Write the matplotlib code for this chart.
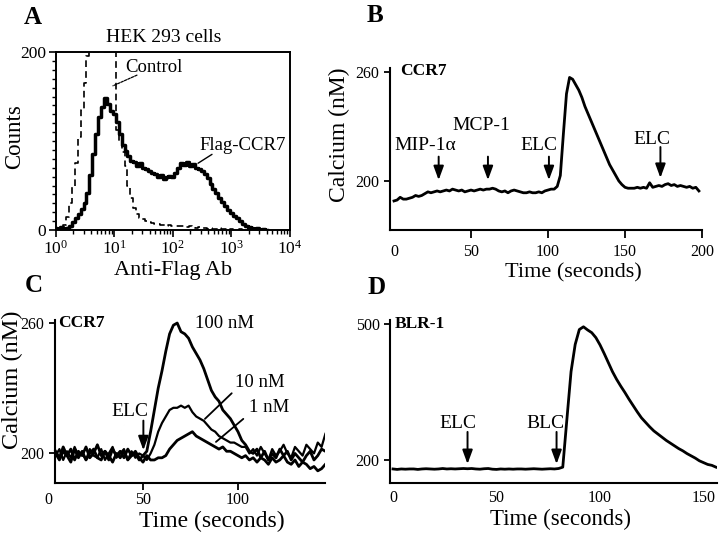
import numpy as np
import matplotlib
matplotlib.use("Agg")
import matplotlib.pyplot as plt
from matplotlib.ticker import LogLocator, LogFormatterMathtext, MultipleLocator, NullFormatter

plt.rcParams['font.family'] = ['Liberation Serif', 'DejaVu Serif']
plt.rcParams['mathtext.fontset'] = 'stix'

W, H = 720, 537

# ---- panel A: flow histogram (log10 of Anti-Flag Ab, counts)
hist_log = np.round(np.arange(0, 3.601, 0.05), 2)
flag_ccr7 = [2, 1, 3, 1, 2, 4, 9, 14, 18, 24, 30, 42, 62, 85, 108, 127, 138, 148, 142, 134,
             130, 121, 108, 96, 89, 83, 78, 76, 72, 75, 70, 68, 66, 64, 63, 60, 62, 57, 59, 61,
             60, 64, 70, 75, 73, 76, 72, 74, 70, 68, 66, 63, 58, 52, 46, 42, 36, 31, 27, 23,
             19, 16, 13, 10, 7, 5, 3, 2, 1, 2, 0, 1, 0]
control = [0, 1, 0, 6, 15, 30, 50, 75, 105, 135, 165, 195, 200, 200, 200, 200, 200, 200, 200, 200,
           200, 112, 100, 88, 72, 50, 36, 25, 18, 14, 12, 10, 9, 8, 7, 7, 6, 6, 5, 6,
           5, 4, 5, 4, 4, 3, 4, 3, 2, 3, 2, 2, 1, 2, 1, 1, 2, 1, 1, 0,
           1, 0, 0, 1, 0, 0, 0, 0, 0, 0, 0, 0, 0]

# ---- panel B: CCR7 calcium trace
b_time = np.arange(0, 199, 2)
b_calcium = [189, 189.5, 191, 190, 190, 190.5, 191, 192, 191.5, 192, 193, 194, 193.5, 194, 194.5,
             194, 194.5, 195, 194.5, 195.5, 195, 194.5, 195, 194, 194.5, 195, 194.5, 195, 195.5, 195,
             195.5, 195.5, 196, 195.5, 194.5, 194, 194.5, 193.5, 194.5, 195, 194.5, 194, 193.5, 193.5, 194,
             193.5, 193.5, 194, 193.5, 194.5, 195, 195.5, 195.5, 197, 203, 226, 248, 257, 256, 253,
             250, 246, 241, 237, 233, 229, 225, 221, 217, 213, 209, 206, 203, 200, 198,
             196.5, 196, 196, 196, 196.5, 196, 196.5, 196, 199, 196.5, 197, 197.5, 197, 198, 198.5,
             197.5, 198, 197, 197.5, 197, 196.5, 197, 196, 196.5, 194.5]

# ---- panel C: ELC dose response
c_time = np.arange(4, 147, 2)
c_100nM = [201, 198, 203, 199, 202, 197, 201, 199, 203, 198, 200, 204, 199, 201, 197, 202, 199, 201,
           198, 202, 199, 200, 197, 199, 201, 210, 220, 230, 238, 247, 255, 259, 260, 256, 255, 253,
           249, 246, 243, 239, 234, 229, 226, 224, 220, 218, 216, 213, 210, 206, 204, 201, 200, 202,
           198, 201, 197, 200, 198, 202, 199, 201, 197, 200, 198, 196, 199, 201, 197, 199, 202, 201]
c_10nM = [199, 202, 197, 201, 198, 203, 199, 200, 197, 202, 199, 198, 202, 197, 200, 203, 198, 200,
          202, 197, 201, 198, 200, 199, 197, 200, 204, 210, 214, 217, 220, 221, 221, 222, 221, 222,
          219, 217, 216, 215, 213, 211, 210, 208, 207, 206, 205, 205, 204, 203, 203, 200, 202, 199,
          203, 200, 197, 202, 199, 201, 204, 200, 198, 203, 201, 199, 204, 202, 200, 205, 203, 209]
c_1nM = [200, 197, 201, 199, 196, 202, 198, 201, 197, 200, 202, 198, 197, 201, 199, 196, 200, 198,
         201, 197, 199, 201, 198, 196, 199, 197, 197, 198, 198, 199, 202, 204, 206, 207, 208, 209,
         210, 208, 207, 206, 205, 204, 203, 202, 203, 201, 201, 200, 199, 198, 199, 197, 198, 196,
         198, 197, 195, 198, 196, 197, 199, 196, 195, 197, 194, 196, 195, 193, 194, 192, 193, 195]

# ---- panel D: BLR-1 calcium trace
d_time = np.arange(0, 157, 2)
d_calcium = [180, 179, 180, 179.5, 180, 180, 179, 180, 180.5, 180, 179.5, 180, 181, 180, 180.5, 180,
             180.5, 181, 180.5, 181, 180, 179.5, 180.5, 181, 179.5, 179, 180, 179.5, 180, 179.5,
             180, 180, 179.5, 180, 180.5, 180, 179.5, 180, 180.5, 180, 181, 184, 290, 395, 455,
             488, 494, 487, 481, 470, 454, 435, 415, 395, 378, 363, 349, 334, 320, 306, 293,
             283, 273, 264, 257, 250, 243, 237, 231, 225, 220, 214, 209, 204, 198, 194, 190,
             188, 184]


def rect(l, t, r, b):
    return [l / W, 1 - b / H, (r - l) / W, (b - t) / H]


def ftext(px, py, s, **kw):
    fig.text(px / W, 1 - py / H, s, **kw)


def arrow(ax, x, y_tail, y_tip):
    ax.annotate('', xy=(x, y_tip), xytext=(x, y_tail),
                arrowprops=dict(arrowstyle='-|>,head_length=0.6,head_width=0.22',
                                lw=1.4, color='k', mutation_scale=14, shrinkA=0, shrinkB=0))


def pointer(ax, p0, p1, lw=1.0, ls='-'):
    ax.annotate('', xy=p0, xytext=p1,
                arrowprops=dict(arrowstyle='-', lw=lw, ls=ls, color='k', shrinkA=0, shrinkB=0))


def trace_axes(ax):
    for s in ['top', 'right']:
        ax.spines[s].set_visible(False)
    for s in ['left', 'bottom']:
        ax.spines[s].set_linewidth(1.5)
    ax.tick_params(axis='both', direction='out', length=4.5, width=1.3, labelsize=11.5, pad=3)


fig = plt.figure(figsize=(7.2, 5.37), dpi=100)

# ================= A
axA = fig.add_axes(rect(55.7, 52, 290, 230))
axA.plot(10 ** hist_log, control, drawstyle='steps-mid', color='k', lw=1.2, ls=(0, (4, 2.5)))
axA.plot(10 ** hist_log, flag_ccr7, drawstyle='steps-mid', color='k', lw=2.5)
axA.set_xscale('log')
axA.set_xlim(1, 1e4)
axA.set_ylim(0, 200)
axA.set_yticks([0, 200])
axA.yaxis.set_minor_locator(MultipleLocator(10))
axA.xaxis.set_major_locator(LogLocator(base=10, numticks=10))
axA.xaxis.set_major_formatter(LogFormatterMathtext())
axA.xaxis.set_minor_locator(LogLocator(base=10, subs=np.arange(2, 10), numticks=10))
axA.xaxis.set_minor_formatter(NullFormatter())
for s in axA.spines.values():
    s.set_linewidth(1.4)
axA.tick_params(axis='y', which='major', labelsize=12.5)
axA.tick_params(axis='x', which='major', labelsize=12.5)
axA.tick_params(axis='both', which='major', direction='out', length=5, width=1.2, pad=2)
axA.tick_params(axis='both', which='minor', direction='out', length=3, width=1.0)
axA.text(15.2, 183, 'Control', fontsize=13.5, ha='left', va='center')
pointer(axA, (9.5, 162), (24.4, 174), lw=0.9, ls=(0, (2, 1)))
axA.text(281, 95.5, 'Flag-CCR7', fontsize=13.5, ha='left', va='center')
pointer(axA, (269, 75), (466, 85), lw=1.0)
ftext(164, 38, 'HEK 293 cells', fontsize=14, ha='center', va='center')
ftext(15, 137, 'Counts', fontsize=16.5, rotation=90, ha='center', va='center')
ftext(173, 270, 'Anti-Flag Ab', fontsize=16, ha='center', va='center')
ftext(33, 17, 'A', fontsize=18, fontweight='bold', ha='center', va='center')

# ================= B
axB = fig.add_axes(rect(390, 68, 702, 230))
axB.plot(b_time, b_calcium, color='k', lw=2.0)
axB.set_xlim(-2.6, 200)
axB.set_ylim(173, 262.2)
axB.set_xticks([0, 50, 100, 150, 200])
axB.set_yticks([200, 260])
trace_axes(axB)
axB.tick_params(axis='x', length=6, pad=4)
axB.xaxis.get_major_ticks()[0].tick1line.set_visible(False)
arrow(axB, 29, 213.4, 200.5)
arrow(axB, 61, 213.4, 200.5)
arrow(axB, 100.6, 213.4, 200.5)
arrow(axB, 173, 218.7, 201.7)
axB.text(20, 219.8, 'MIP-1α', fontsize=14, ha='center', va='center')
axB.text(57, 230.8, 'MCP-1', fontsize=14, ha='center', va='center')
axB.text(94, 219.8, 'ELC', fontsize=14, ha='center', va='center')
axB.text(167.5, 222.6, 'ELC', fontsize=14, ha='center', va='center')
ftext(400, 71, 'CCR7', fontsize=12.5, fontweight='bold', ha='left', va='center')
ftext(339, 135, 'Calcium (nM)', fontsize=17, rotation=90, ha='center', va='center')
ftext(573, 273, 'Time (seconds)', fontsize=16, ha='center', va='center')
ftext(375, 15, 'B', fontsize=18, fontweight='bold', ha='center', va='center')

# ================= C
axC = fig.add_axes(rect(48, 320, 325, 483))
axC.plot(c_time, c_100nM, color='k', lw=2.0)
axC.plot(c_time, c_10nM, color='k', lw=1.6)
axC.plot(c_time, c_1nM, color='k', lw=2.0)
axC.set_xlim(0, 145.8)
axC.set_ylim(186.4, 261.4)
axC.spines['left'].set_position(('data', 3.7))
axC.spines['bottom'].set_bounds(3.7, 145.8)
axC.set_xticks([0, 50, 100])
axC.set_yticks([200, 260])
trace_axes(axC)
axC.tick_params(axis='x', length=5, pad=1.5)
axC.xaxis.get_major_ticks()[0].tick1line.set_visible(False)
arrow(axC, 50.2, 215.1, 201.5)
axC.text(43, 219.2, 'ELC', fontsize=14, ha='center', va='center')
axC.text(77.4, 259.9, '100 nM', fontsize=13.5, ha='left', va='center')
axC.text(98.4, 232.6, '10 nM', fontsize=13.5, ha='left', va='center')
axC.text(106, 221.2, '1 nM', fontsize=13.5, ha='left', va='center')
pointer(axC, (82.6, 215.9), (96.7, 227.7), lw=1.3)
pointer(axC, (88.4, 205.3), (102.8, 215.9), lw=1.3)
ftext(58, 323, 'CCR7', fontsize=12.5, fontweight='bold', ha='left', va='center')
ftext(12, 380, 'Calcium (nM)', fontsize=17.5, rotation=90, ha='center', va='center')
ftext(212, 521, 'Time (seconds)', fontsize=17, ha='center', va='center')
ftext(34, 286, 'C', fontsize=18, fontweight='bold', ha='center', va='center')

# ================= D
axD = fig.add_axes(rect(390, 320, 717, 483))
axD.plot(d_time, d_calcium, color='k', lw=2.0)
axD.set_xlim(-1.45, 156.5)
axD.set_ylim(149, 509)
axD.set_xticks([0, 50, 100, 150])
axD.set_yticks([200, 500])
trace_axes(axD)
axD.tick_params(axis='x', length=0, pad=5)
arrow(axD, 36, 261.8, 191)
arrow(axD, 79, 261.8, 191)
axD.text(31.4, 279.4, 'ELC', fontsize=14, ha='center', va='center')
axD.text(73.4, 279.4, 'BLC', fontsize=14, ha='center', va='center')
ftext(395, 324, 'BLR-1', fontsize=12.5, fontweight='bold', ha='left', va='center')
ftext(560, 519, 'Time (seconds)', fontsize=16.5, ha='center', va='center')
ftext(377, 287, 'D', fontsize=18, fontweight='bold', ha='center', va='center')

fig.savefig('out.png', dpi=100)
